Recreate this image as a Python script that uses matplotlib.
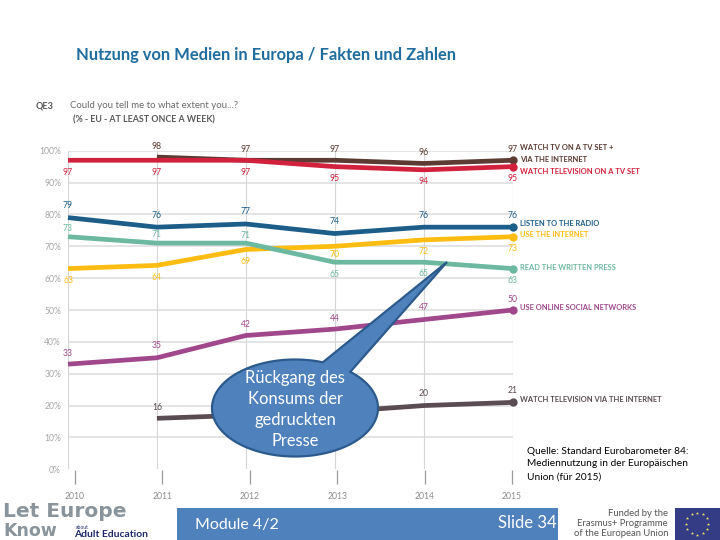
#: Mediennutzung in Europa, slide with Eurobarometer line chart
import numpy as np
import matplotlib
matplotlib.use('Agg')
import matplotlib.pyplot as plt
from matplotlib.patches import Polygon, Rectangle

plt.rcParams['font.family'] = ['Lato', 'DejaVu Sans']

# Data
years = [2010, 2011, 2012, 2013, 2014, 2015]
y_ticks = [0, 10, 20, 30, 40, 50, 60, 70, 80, 90, 100]

tv_plus_net = [None, 98, 97, 97, 96, 97]
tv_set = [97, 97, 97, 95, 94, 95]
radio = [79, 76, 77, 74, 76, 76]
internet = [63, 64, 69, 70, 72, 73]
press = [73, 71, 71, 65, 65, 63]
social = [33, 35, 42, 44, 47, 50]
tv_net = [None, 16, 17, 18, 20, 21]  # 2012/2013 hidden by the callout, estimated

# Styles: colour and label offset (pixels above the line, negative is below, None is no label)
series = [
    (tv_plus_net, '#5b3b32', [None, 11, 11, 11, 11, 11]),
    (tv_set, '#d2213c', [-12, -12, -12, -12, -12, -12]),
    (radio, '#1c5d8a', [12, 12, 12, 12, 12, 12]),
    (internet, '#fdbc11', [-12, -12, -12, -8, -12, -12]),
    (press, '#6cb8a0', [8, 9, 8, -12, -11, -12]),
    (social, '#a1478c', [11, 12, 11, 11, 12, 11]),
    (tv_net, '#5a4c52', [None, 11, None, None, 12, 12]),
]

legend_text = ['WATCH TV ON A TV SET +', 'VIA THE INTERNET', 'WATCH TELEVISION ON A TV SET',
               'LISTEN TO THE RADIO', 'USE THE INTERNET', 'READ THE WRITTEN PRESS',
               'USE ONLINE SOCIAL NETWORKS', 'WATCH TELEVISION VIA THE INTERNET']
legend_y = [148, 159, 171, 223, 234.5, 267, 308, 400]
legend_col = ['#5b3b32', '#5b3b32', '#d2213c', '#1c5d8a', '#fdbc11', '#6cb8a0', '#a1478c', '#5a4c52']

W, H = 720, 540
PX = 0.72  # points per pixel at dpi 100
BLUE = '#4f81bd'
fig = plt.figure(figsize=(W / 100, H / 100), dpi=100)

# Chart axes
ax = fig.add_axes([68 / W, 1 - 469.3 / H, 444.5 / W, 318.6 / H])
ax.set_xlim(2010, 2015)
ax.set_ylim(0, 100)
for s in ax.spines.values():
    s.set_visible(False)
ax.set_xticks([])
ax.set_yticks(y_ticks)
ax.set_yticklabels([f'{v}%' for v in y_ticks], fontsize=6.2, color='#a6a6a6')
ax.tick_params(axis='y', length=0, pad=5)
for v in y_ticks[1:]:
    ax.axhline(v, color='#dcdcdc', lw=1.1, zorder=1)
ax.axhline(0, color='#bdbdbd', lw=0.7, ls=(0, (1.5, 1.5)), zorder=1)
for yr in years:
    ax.axvline(yr, color='#d6d6d6', lw=0.8, zorder=1)

for vals, col, offs in series:
    xs = [x for x, v in zip(years, vals) if v is not None]
    ys = [v for v in vals if v is not None]
    ax.plot(xs, ys, color=col, lw=3.4, solid_capstyle='butt', clip_on=False, zorder=3)
    ax.plot(xs[-1], ys[-1], 'o', color=col, ms=6, mew=0, clip_on=False, zorder=4)
    for x, v, off in zip(years, vals, offs):
        if off is None:
            continue
        ax.annotate(str(v), (x, v), xytext=(0, off * PX), textcoords='offset points',
                    ha='center', va='center', fontsize=6.2, color=col, zorder=3)

# Year axis, offset from the chart as in the original
ax2 = fig.add_axes([75 / W, 1 - 470 / H, 437 / W, 0.001])
ax2.set_xlim(2010, 2015)
ax2.set_yticks([])
for s in ax2.spines.values():
    s.set_visible(False)
ax2.patch.set_alpha(0)
ax2.set_xticks(years)
ax2.set_xticklabels([str(y) for y in years], fontsize=6.2, color='#8c8c8c')
ax2.tick_params(axis='x', length=10, width=0.9, color='#9a9a9a', pad=6)

# Overlay in pixel coordinates for the slide furniture
ov = fig.add_axes([0, 0, 1, 1])
ov.set_xlim(0, W)
ov.set_ylim(H, 0)
ov.axis('off')
ov.patch.set_alpha(0)

ov.text(76, 55, 'Nutzung von Medien in Europa / Fakten und Zahlen', fontsize=11.9,
        fontweight='bold', color='#1f6c9f', va='center')
ov.text(36, 105.5, 'QE3', fontsize=6.6, fontweight='bold', color='#595959', va='center')
ov.text(70, 105.5, 'Could you tell me to what extent you...?', fontsize=6.9, color='#6b6b6b', va='center')
ov.text(73, 120, '(% - EU - AT LEAST ONCE A WEEK)', fontsize=6.4, fontweight='bold', color='#595959', va='center')

for txt, y, col in zip(legend_text, legend_y, legend_col):
    ov.text(520, y, txt, fontsize=5.45, fontweight='bold', color=col, va='center')

# Callout: ellipse with a wedge pointing at the press line
cx, cy, rx, ry = 295, 408, 83, 48.5
a0 = np.arctan2((362 - cy) / ry, (323 - cx) / rx)
a1 = np.arctan2((372 - cy) / ry, (350 - cx) / rx)
t = np.linspace(a1, a0 + 2 * np.pi, 120)
pts = np.column_stack([cx + rx * np.cos(t), cy + ry * np.sin(t)])
pts = np.vstack([pts, [[447, 262]]])
ov.add_patch(Polygon(pts, closed=True, fc=BLUE, ec='#2c5a8c', lw=1.6, zorder=5))
for txt, y in zip(['Rückgang des', 'Konsums der', 'gedruckten', 'Presse'], [378, 399, 420, 441]):
    ov.text(295, y, txt, fontsize=11.9, color='white', ha='center', va='center', zorder=6)

for txt, y in zip(['Quelle: Standard Eurobarometer 84:', 'Mediennutzung in der Europäischen', 'Union (für 2015)'],
                  [451, 464, 477]):
    ov.text(527, y, txt, fontsize=7.3, color='black', va='center')

# Footer
ov.add_patch(Rectangle((177, 508), 381, 32, fc=BLUE, ec='none'))
ov.text(195, 525, 'Module 4/2', fontsize=11.5, color='white', va='center')
ov.text(557, 523, 'Slide 34', fontsize=12, color='white', va='center', ha='right')

ov.text(3, 511.5, 'Let Europe', fontsize=14.5, fontweight='bold', color='#8a949c', va='center',
        family='DejaVu Sans')
ov.text(3, 531, 'Know', fontsize=12.5, fontweight='bold', color='#8a949c', va='center',
        family='DejaVu Sans')
ov.text(76, 527.5, 'about', fontsize=3.6, color='#1d2a6b', va='center')
ov.text(74, 534.5, 'Adult Education', fontsize=7.4, fontweight='bold', color='#1d2a6b', va='center')

for txt, y in zip(['Funded by the', 'Erasmus+ Programme', 'of the European Union'], [513, 523.5, 534]):
    ov.text(668, y, txt, fontsize=6.8, color='#555555', va='center', ha='right')

ov.add_patch(Rectangle((675, 508), 45, 32, fc='#333c85', ec='none'))
ang = np.arange(12) * np.pi / 6
ov.scatter(697 + 11 * np.cos(ang), 523.5 + 11 * np.sin(ang), marker='*', s=6, color='#f2df6a', linewidths=0)

fig.savefig('out.png', dpi=100)
